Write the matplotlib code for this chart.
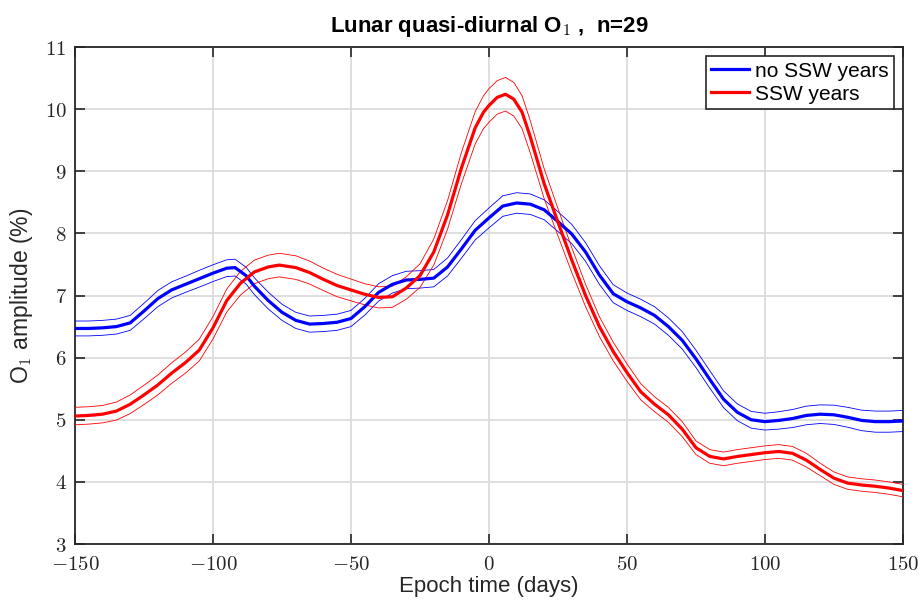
import matplotlib.pyplot as plt
import numpy as np

plt.rcParams['font.family'] = ['Liberation Sans', 'DejaVu Sans']
plt.rcParams['mathtext.fontset'] = 'cm'

# epoch days and mean amplitude, no SSW years
day_no = [-150, -145, -140, -135, -130, -125, -120, -115, -110, -105, -100, -95, -92, -88,
          -85, -80, -75, -70, -65, -60, -55, -50, -45, -40, -35, -30, -25, -20, -15, -10,
          -5, 0, 5, 10, 15, 20, 25, 30, 35, 40, 45, 50, 55, 60, 65, 70, 75, 80, 85, 90,
          95, 100, 105, 110, 115, 120, 125, 130, 135, 140, 145, 150]
amp_no = [6.47, 6.47, 6.48, 6.50, 6.56, 6.75, 6.95, 7.09, 7.18, 7.27, 7.36, 7.44, 7.45, 7.32,
          7.15, 6.92, 6.73, 6.60, 6.54, 6.55, 6.57, 6.63, 6.82, 7.05, 7.18, 7.25, 7.26, 7.28, 7.46, 7.75,
          8.05, 8.25, 8.44, 8.49, 8.47, 8.38, 8.19, 7.99, 7.70, 7.33, 7.03, 6.90, 6.80, 6.68, 6.50, 6.28,
          5.98, 5.65, 5.33, 5.12, 5.00, 4.97, 4.99, 5.02, 5.07, 5.09, 5.08, 5.04, 4.99, 4.97, 4.97, 4.98]
err_no = [0.12, 0.12, 0.12, 0.12, 0.12, 0.125, 0.13, 0.13, 0.13, 0.135, 0.135, 0.135, 0.135, 0.135,
          0.135, 0.135, 0.13, 0.13, 0.13, 0.13, 0.13, 0.13, 0.135, 0.14, 0.14, 0.14, 0.14, 0.14, 0.145, 0.15,
          0.155, 0.16, 0.165, 0.165, 0.165, 0.16, 0.16, 0.155, 0.15, 0.15, 0.145, 0.14, 0.14, 0.14, 0.14, 0.14,
          0.14, 0.14, 0.135, 0.135, 0.135, 0.135, 0.14, 0.145, 0.15, 0.15, 0.155, 0.16, 0.165, 0.17, 0.17, 0.17]

# epoch days and mean amplitude, SSW years
day_ssw = [-150, -145, -140, -135, -130, -125, -120, -115, -110, -105, -100, -95, -90, -85,
           -80, -76, -70, -65, -60, -55, -50, -45, -40, -35, -30, -25, -20, -15, -10, -5,
           -2, 0, 3, 6, 9, 12, 15, 20, 25, 30, 35, 40, 45, 50, 55, 60, 65, 70, 75, 80, 85, 90,
           95, 100, 105, 110, 115, 120, 125, 130, 135, 140, 145, 150]
amp_ssw = [5.06, 5.07, 5.09, 5.14, 5.25, 5.40, 5.56, 5.75, 5.92, 6.12, 6.48, 6.92, 7.20, 7.38,
           7.46, 7.49, 7.45, 7.37, 7.26, 7.16, 7.09, 7.02, 6.97, 6.98, 7.12, 7.32, 7.70, 8.30, 9.05, 9.70,
           9.95, 10.06, 10.19, 10.24, 10.16, 9.95, 9.55, 8.80, 8.18, 7.57, 7.00, 6.50, 6.10, 5.76, 5.45, 5.25,
           5.08, 4.85, 4.55, 4.41, 4.37, 4.41, 4.44, 4.47, 4.49, 4.46, 4.35, 4.20, 4.06, 3.98, 3.95, 3.93, 3.90, 3.86]
err_ssw = [0.14, 0.14, 0.14, 0.145, 0.15, 0.155, 0.16, 0.165, 0.17, 0.175, 0.18, 0.185, 0.19, 0.19,
           0.19, 0.19, 0.19, 0.185, 0.18, 0.18, 0.175, 0.17, 0.17, 0.17, 0.18, 0.19, 0.21, 0.23, 0.25, 0.26,
           0.265, 0.27, 0.27, 0.27, 0.27, 0.265, 0.26, 0.24, 0.22, 0.2, 0.18, 0.16, 0.15, 0.14, 0.13, 0.12,
           0.12, 0.12, 0.11, 0.11, 0.11, 0.11, 0.11, 0.11, 0.11, 0.11, 0.11, 0.1, 0.1, 0.1, 0.1, 0.1, 0.1, 0.1]

xticks = [-150, -100, -50, 0, 50, 100, 150]
yticks = [3, 4, 5, 6, 7, 8, 9, 10, 11]

fig = plt.figure(figsize=(9.2, 6.03), dpi=100)
ax = fig.add_axes([0.0815, 0.0978, 0.9, 0.8242])

a_no = np.array(amp_no)
e_no = np.array(err_no)
a_s = np.array(amp_ssw)
e_s = np.array(err_ssw)

ax.plot(day_no, a_no, color='#0000ff', lw=2.3, label='no SSW years', zorder=4)
ax.plot(day_no, a_no + e_no, color='#0000ff', lw=0.6, zorder=3)
ax.plot(day_no, a_no - e_no, color='#0000ff', lw=0.6, zorder=3)
ax.plot(day_ssw, a_s, color='#ff0000', lw=2.3, label='SSW years', zorder=4)
ax.plot(day_ssw, a_s + e_s, color='#ff0000', lw=0.6, zorder=3)
ax.plot(day_ssw, a_s - e_s, color='#ff0000', lw=0.6, zorder=3)

ax.set_xlim(-150, 150)
ax.set_ylim(3, 11)
ax.set_xticks(xticks)
ax.set_yticks(yticks)
ax.set_xticklabels(['$' + str(t) + '$' for t in xticks], fontsize=15)
ax.set_yticklabels(['$' + str(t) + '$' for t in yticks], fontsize=15)
ax.tick_params(direction='in', length=7, width=1.2, top=True, right=True, color='#262626',
               labelcolor='#262626')
ax.tick_params(axis='x', pad=8)
ax.tick_params(axis='y', pad=6)
ax.grid(True, color='#dcdcdc', lw=1.3, zorder=0)
ax.set_axisbelow(True)
for s in ax.spines.values():
    s.set_linewidth(1.3)
    s.set_color('#262626')

ax.set_xlabel('Epoch time (days)', fontsize=16, color='#262626', labelpad=1)
ax.set_ylabel(r'O$_\mathsf{1}$ amplitude (%)', fontsize=16.5, color='#262626', labelpad=7)
ax.set_title(r'Lunar quasi-diurnal O$_\mathbf{1}$ ,  n=29', fontsize=16, fontweight='bold', pad=11)

leg = ax.legend(loc='upper right', fontsize=15, fancybox=False, edgecolor='#262626',
                framealpha=1, borderaxespad=0.45, handlelength=1.8, handletextpad=0.3,
                labelspacing=0.2, borderpad=0.25)
leg.get_frame().set_linewidth(1.2)

fig.savefig('out.png', dpi=100)
